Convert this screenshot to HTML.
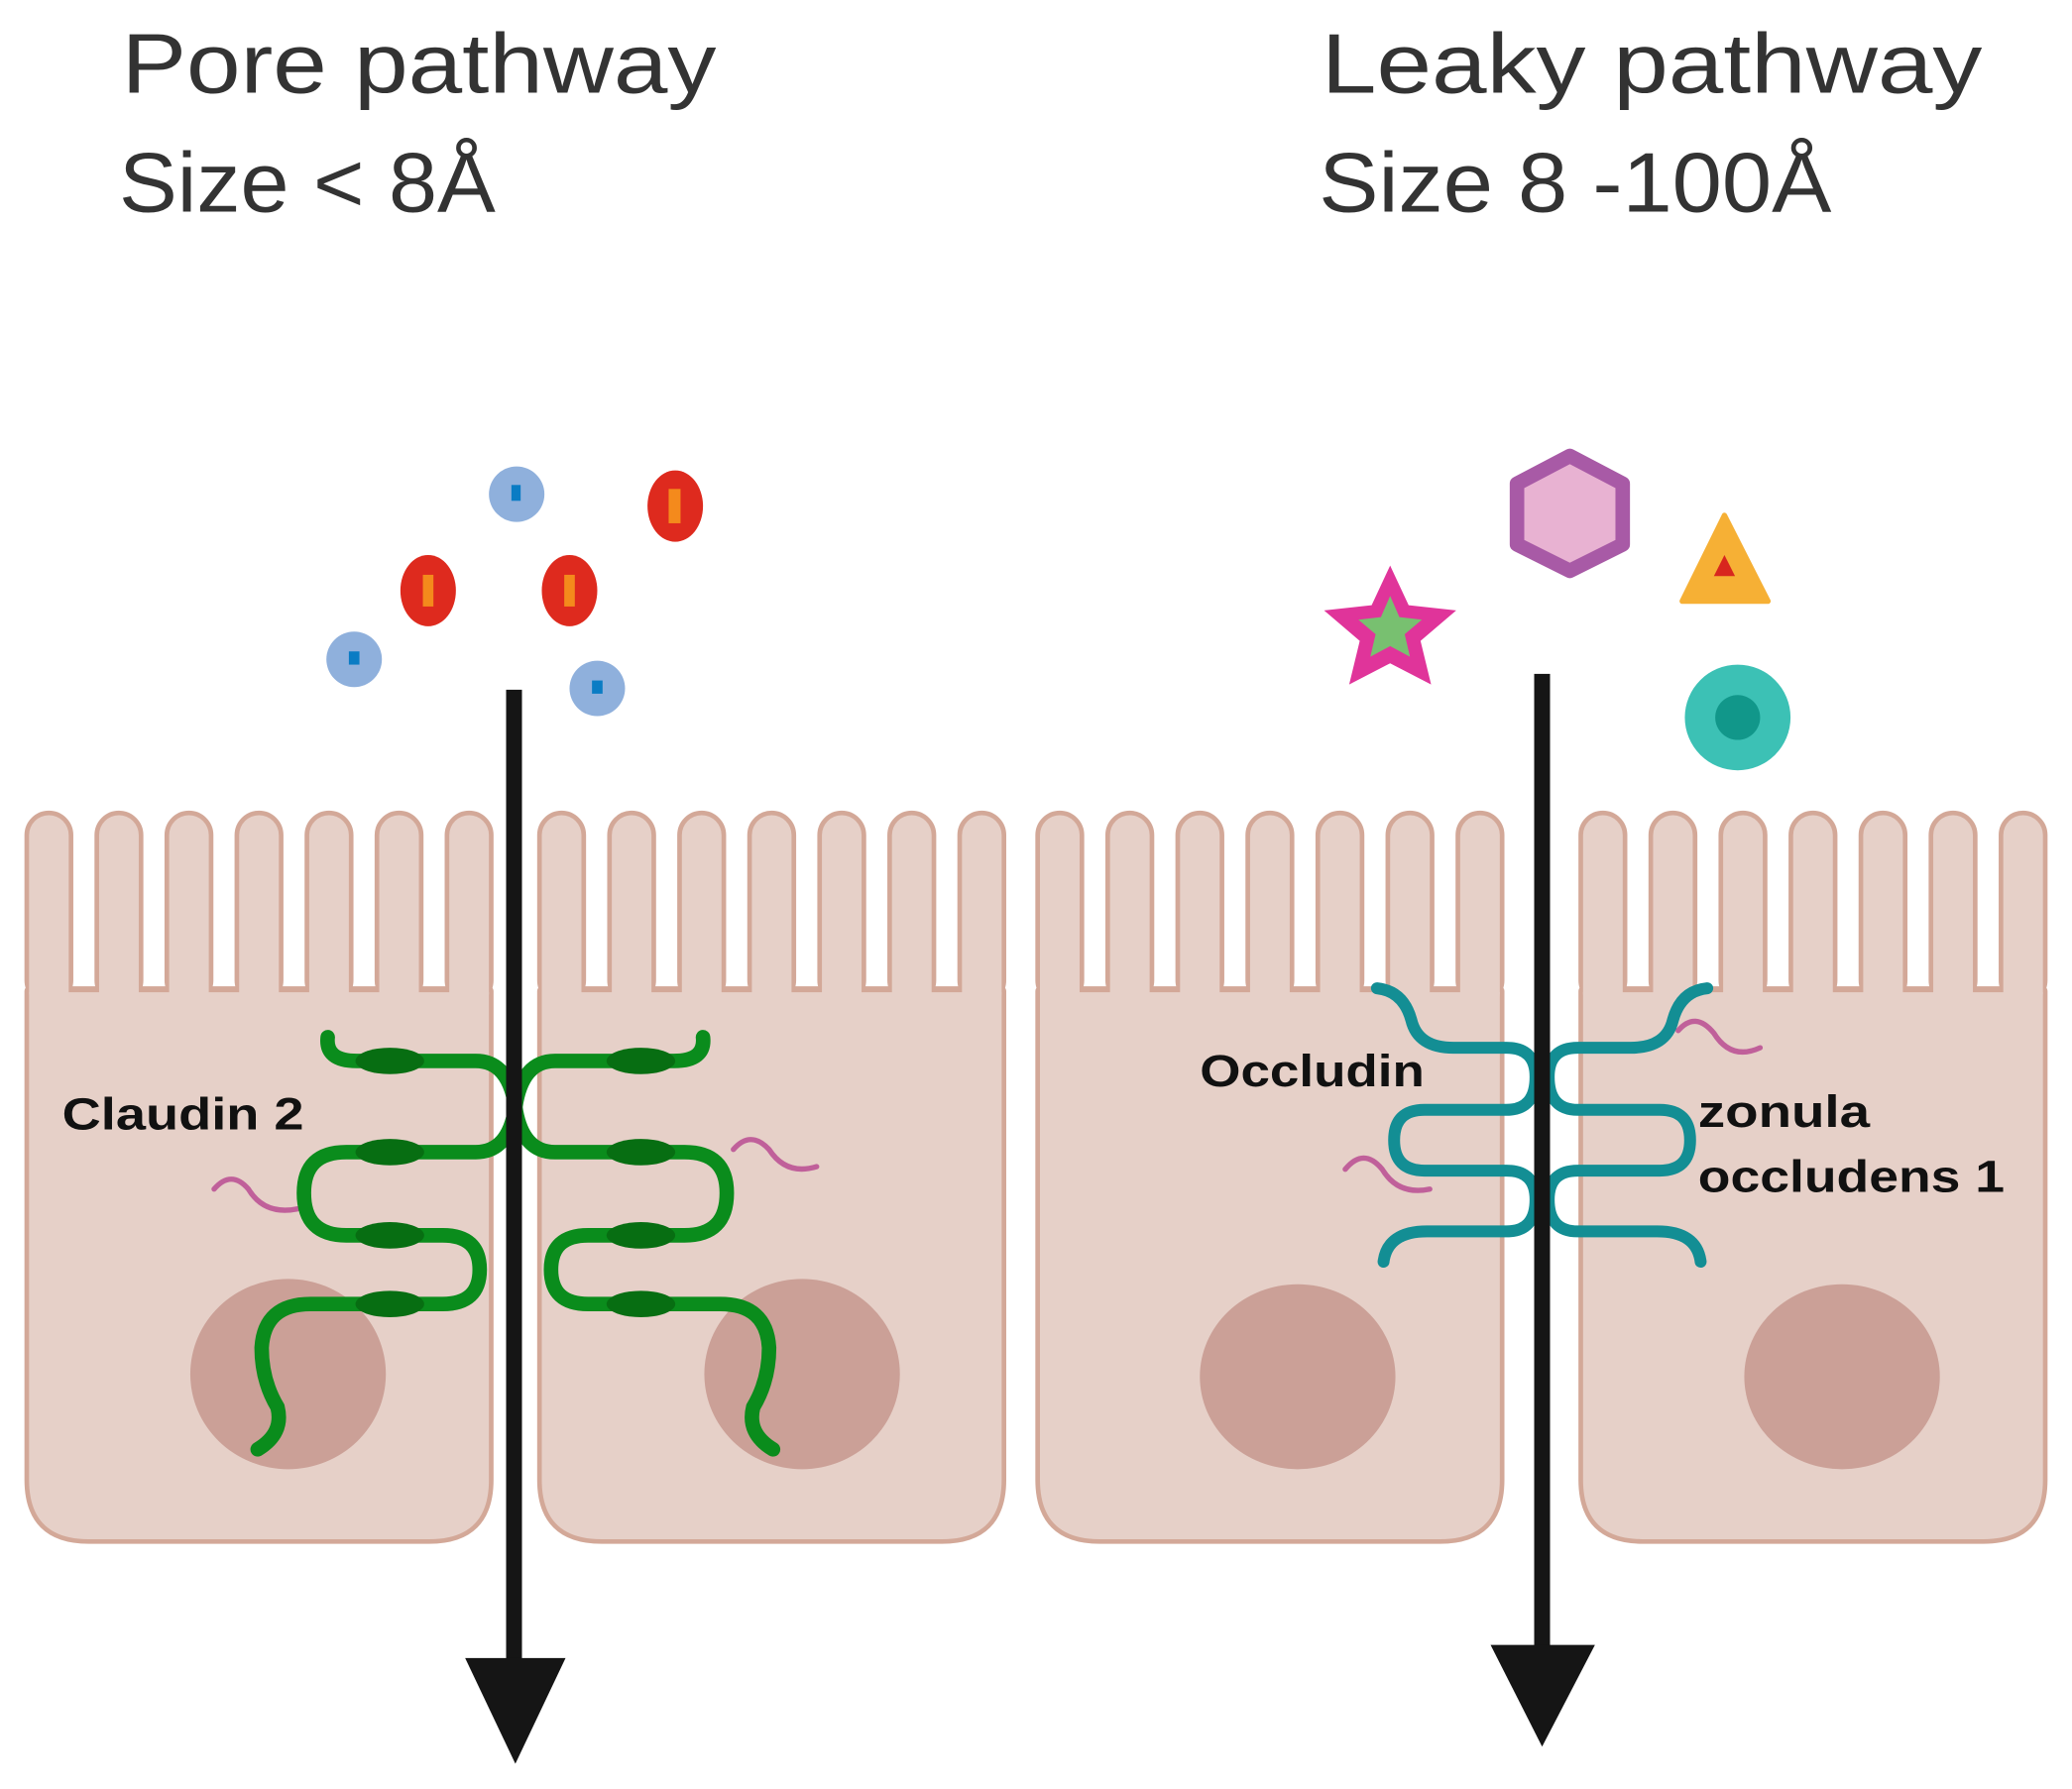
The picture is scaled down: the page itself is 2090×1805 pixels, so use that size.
<!DOCTYPE html>
<html><head><meta charset="utf-8"><style>html,body{margin:0;padding:0;background:#fff}svg{display:block}</style></head>
<body>
<svg width="2090" height="1805" viewBox="0 0 1568 1354" xmlns="http://www.w3.org/2000/svg">
<defs>
<g id="cellS" fill="#d3a898" stroke="#d3a898" stroke-width="7" stroke-linejoin="round">
<path d="M0,133 L348,133 L348,503 Q348,548 303,548 L45,548 Q0,548 0,503 Z"/>
<rect x="0" y="0" width="30" height="140" rx="15"/>
<rect x="53" y="0" width="30" height="140" rx="15"/>
<rect x="106" y="0" width="30" height="140" rx="15"/>
<rect x="159" y="0" width="30" height="140" rx="15"/>
<rect x="212" y="0" width="30" height="140" rx="15"/>
<rect x="265" y="0" width="30" height="140" rx="15"/>
<rect x="318" y="0" width="30" height="140" rx="15"/>
</g>
<g id="cellF" fill="#e6d0c8">
<path d="M0,134 L348,134 L348,503 Q348,548 303,548 L45,548 Q0,548 0,503 Z"/>
<rect x="0" y="0" width="30" height="150" rx="15"/>
<rect x="53" y="0" width="30" height="150" rx="15"/>
<rect x="106" y="0" width="30" height="150" rx="15"/>
<rect x="159" y="0" width="30" height="150" rx="15"/>
<rect x="212" y="0" width="30" height="150" rx="15"/>
<rect x="265" y="0" width="30" height="150" rx="15"/>
<rect x="318" y="0" width="30" height="150" rx="15"/>
</g>
<g id="cell"><use href="#cellS"/><use href="#cellF"/></g>
<g id="claud">
<path d="M248,785 Q246,803 270,803 L360,803 Q385,803 390,838 M390,838 Q385,872 360,872 L262,872 Q230,872 230,903 Q230,935 262,935 L335,935 Q363,935 363,961 Q363,987 335,987 L235,987 Q200,987 198,1020 Q198,1045 210,1065 Q215,1085 195,1097" fill="none" stroke="#0a8c1c" stroke-width="11" stroke-linecap="round"/>
<ellipse cx="295" cy="803" rx="26" ry="10" fill="#076e12"/>
<ellipse cx="295" cy="872" rx="26" ry="10" fill="#076e12"/>
<ellipse cx="295" cy="935" rx="26" ry="10" fill="#076e12"/>
<ellipse cx="295" cy="987" rx="26" ry="10" fill="#076e12"/>
</g>
<g id="occl" fill="none" stroke="#138e94" stroke-width="9" stroke-linecap="round">
<path d="M1042,748 Q1062,750 1068,772 Q1073,793 1100,793 L1140,793 Q1162,793 1162,815 Q1162,840 1140,840 L1078,840 Q1055,840 1055,863 Q1055,886 1078,886 L1140,886 Q1162,886 1162,908 Q1162,932 1140,932 L1080,932 Q1050,932 1047,955"/>
</g>
</defs>
<rect width="1568" height="1354" fill="#fff"/>
<g font-family="Liberation Sans, sans-serif" fill="#333" font-size="64">
<text x="92" y="70" textLength="450" lengthAdjust="spacingAndGlyphs">Pore pathway</text>
<text x="90" y="160" textLength="285" lengthAdjust="spacingAndGlyphs">Size &lt; 8Å</text>
<text x="1000" y="70" textLength="500" lengthAdjust="spacingAndGlyphs">Leaky  pathway</text>
<text x="998" y="160" textLength="388" lengthAdjust="spacingAndGlyphs">Size 8 -100Å</text>
</g>
<use href="#cell" x="22" y="617"/>
<use href="#cell" x="410" y="617"/>
<use href="#cell" x="787" y="617"/>
<use href="#cell" x="1198" y="617"/>
<g fill="#cba097">
<ellipse cx="218" cy="1040" rx="74" ry="72"/>
<ellipse cx="607" cy="1040" rx="74" ry="72"/>
<ellipse cx="982" cy="1042" rx="74" ry="70"/>
<ellipse cx="1394" cy="1042" rx="74" ry="70"/>
</g>
<g fill="none" stroke="#c0609a" stroke-width="4" stroke-linecap="round">
<path d="M162,900 Q175,885 188,900 Q200,920 225,915"/>
<path d="M555,870 Q568,855 582,870 Q595,890 618,883"/>
<path d="M1018,885 Q1032,868 1046,885 Q1058,905 1082,900"/>
<path d="M1270,780 Q1283,765 1297,782 Q1310,803 1332,793"/>
</g>
<use href="#claud"/>
<use href="#claud" transform="translate(780,0) scale(-1,1)"/>
<use href="#occl"/>
<use href="#occl" transform="translate(2334,0) scale(-1,1)"/>
<rect x="383" y="522" width="12" height="740" fill="#151515"/>
<polygon points="352,1255 428,1255 390,1335" fill="#151515"/>
<rect x="1161" y="510" width="12" height="740" fill="#151515"/>
<polygon points="1128,1245 1207,1245 1167,1322" fill="#151515"/>
<g fill="#8fb0dc"><circle cx="391" cy="374" r="21"/><circle cx="268" cy="499" r="21"/><circle cx="452" cy="521" r="21"/></g>
<g fill="#0a7cc4"><rect x="387" y="367" width="7" height="12"/><rect x="264" y="493" width="8" height="10"/><rect x="448" y="515" width="8" height="10"/></g>
<g fill="#de2a1e"><ellipse cx="511" cy="383" rx="21" ry="27"/><ellipse cx="324" cy="447" rx="21" ry="27"/><ellipse cx="431" cy="447" rx="21" ry="27"/></g>
<g fill="#f48a1c"><rect x="506" y="370" width="9" height="26"/><rect x="320" y="435" width="8" height="24"/><rect x="427" y="435" width="8" height="24"/></g>
<polygon points="1188,345 1228,366 1228,412 1188,432 1148,412 1148,366" fill="#e8b2d2" stroke="#a85aa6" stroke-width="11" stroke-linejoin="round"/>
<polygon points="1052,428 1066,458 1102,462 1075,485 1083,518 1052,502 1021,518 1029,485 1002,462 1038,458" fill="#e0349a"/>
<polygon points="1052,451 1059,467 1076,469 1063,480 1067,497 1052,489 1037,497 1041,480 1028,469 1045,467" fill="#78c070"/>
<polygon points="1305,390 1338,455 1273,455" fill="#f6b035" stroke="#f6b035" stroke-width="4" stroke-linejoin="round"/>
<polygon points="1305,420 1313,436 1297,436" fill="#d8261e"/>
<circle cx="1315" cy="543" r="40" fill="#3cc1b5"/>
<circle cx="1315" cy="543" r="17" fill="#11978a"/>
<g font-family="Liberation Sans, sans-serif" font-weight="bold" fill="#111" font-size="34">
<text x="47" y="855" textLength="183" lengthAdjust="spacingAndGlyphs">Claudin 2</text>
<text x="908" y="822" textLength="170" lengthAdjust="spacingAndGlyphs">Occludin</text>
<text x="1285" y="853" textLength="130" lengthAdjust="spacingAndGlyphs">zonula</text>
<text x="1285" y="902" textLength="232" lengthAdjust="spacingAndGlyphs">occludens 1</text>
</g>
</svg>
</body></html>
